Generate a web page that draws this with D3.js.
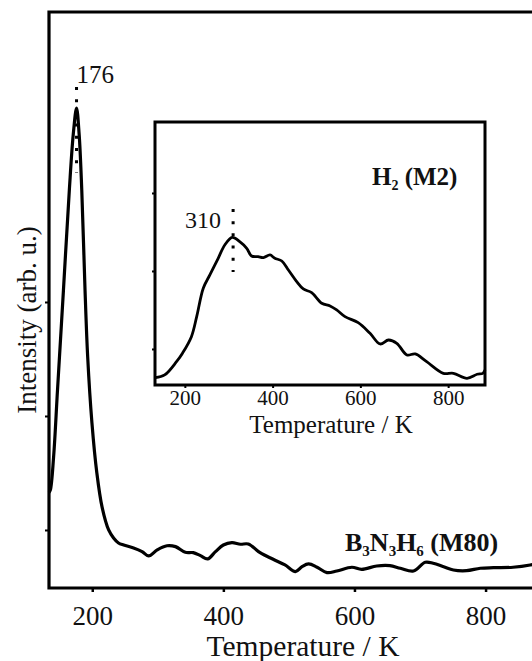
<!DOCTYPE html>
<html>
<head>
<meta charset="utf-8">
<script src="https://cdn.jsdelivr.net/npm/d3@7/dist/d3.min.js"></script>
<style>
  html, body { margin: 0; padding: 0; background: #fff; }
  svg { display: block; }
  svg text, svg .tick text { font-family: "Liberation Serif", Tinos, "Times New Roman", "DejaVu Serif", serif !important; fill: #111; }
</style>
</head>
<body>
<svg id="chart" width="532" height="661"></svg>
<script>
// ---- Main curve: B3N3H6 (M80) ----
const mainT = [134,136,141,147,156,165,171,176,180,184,189,193,199.5,207,215,225,232.5,240,248,263,
  276,286,299,314,327,342,354,365,376,388,400,413,426,438,456,476,494,510,520,530,
  543,558,573,596,611,634,654,670,690,708,720,736,751,771,792,812,842,868,880];
const mainI = [1.33,1.35,1.64,2.23,3.10,3.98,4.47,4.70,4.47,3.98,3.10,2.52,1.94,1.50,1.20,1.00,0.93,0.886,0.868,0.842,
  0.81,0.772,0.825,0.862,0.854,0.804,0.801,0.775,0.746,0.81,0.868,0.889,0.875,0.877,0.801,0.743,0.693,0.635,0.678,0.702,
  0.673,0.626,0.640,0.673,0.655,0.684,0.687,0.664,0.640,0.717,0.708,0.678,0.649,0.643,0.664,0.669,0.673,0.693,0.71];

// ---- Inset curve: H2 (M2) ----
const insetT = [133,154,181,195,215,227,242,257,276,291,308,325,341,352,367,379,394,405,421,436,
  455,470,489,512,531,546,565,595,622,645,664,683,706,725,751,789,812,843,866,879,884];
const insetI = [0.632,0.667,0.837,0.949,1.158,1.414,1.778,1.949,2.163,2.333,2.43,2.376,2.291,2.192,2.183,2.171,2.205,2.163,2.128,2.013,
  1.863,1.769,1.722,1.586,1.551,1.5,1.414,1.337,1.201,1.064,1.115,1.073,0.923,0.936,0.837,0.688,0.688,0.624,0.676,0.688,0.731];

// ---- Ticks / labels ----
const xTicks = [200, 400, 600, 800];
const mainYTicks = [1, 2, 3];
const insetYTicks = [1, 2, 3];
const mainPeak = {t: 176, label: "176", from: 4.132, to: 4.886};
const insetPeak = {t: 310, label: "310", from: 1.987, to: 2.795};
const xTitle = "Temperature / K";
const yTitle = "Intensity (arb. u.)";

const FONT = '"Liberation Serif", Tinos, "Times New Roman", "DejaVu Serif", serif';
const svg = d3.select("#chart");

// Main scales
const mx = d3.scaleLinear().domain([134, 880]).range([49, 538]);
const my = d3.scaleLinear().domain([0.491, 5.544]).range([588, 12]);

// Inset scales
const ix = d3.scaleLinear().domain([132, 884]).range([155, 485]);
const iy = d3.scaleLinear().domain([0.538, 3.91]).range([385, 122]);

// Main frame (left, top, bottom)
svg.append("path")
  .attr("d", `M${mx(880)},${my.range()[1]} H${mx.range()[0]} V${my.range()[0]} H${mx(880)}`)
  .attr("fill", "none").attr("stroke", "#000").attr("stroke-width", 3.2);

// Main axes
const mxAxis = svg.append("g").attr("transform", `translate(0,${my.range()[0]})`)
  .call(d3.axisBottom(mx).tickValues(xTicks).tickSize(4).tickFormat(d3.format("d")));
mxAxis.attr("font-family", FONT);
mxAxis.select(".domain").remove();
mxAxis.selectAll("line").attr("stroke", "#000").attr("stroke-width", 2.5);
mxAxis.selectAll("text").attr("y", 37).attr("dy", null)
  .attr("font-family", FONT).style("font-size", "27px").attr("fill", "#111");

const myAxis = svg.append("g").attr("transform", `translate(${mx.range()[0]},0)`)
  .call(d3.axisLeft(my).tickValues(mainYTicks).tickSize(4).tickFormat(""));
myAxis.select(".domain").remove();
myAxis.selectAll("line").attr("stroke", "#000").attr("stroke-width", 2);

// Main curve
const mainLine = d3.line().x(d => mx(d[0])).y(d => my(d[1])).curve(d3.curveCatmullRom.alpha(0.5));
svg.append("path")
  .datum(mainT.map((t, i) => [t, mainI[i]]))
  .attr("d", mainLine)
  .attr("fill", "none").attr("stroke", "#000").attr("stroke-width", 3.2)
  .attr("stroke-linejoin", "round");

// Main peak marker
svg.append("line")
  .attr("x1", mx(mainPeak.t)).attr("x2", mx(mainPeak.t))
  .attr("y1", my(mainPeak.to)).attr("y2", my(mainPeak.from))
  .attr("stroke", "#000").attr("stroke-width", 3).attr("stroke-dasharray", "3,9.2");
svg.append("text").attr("x", mx(mainPeak.t)).attr("y", 83).attr("font-family", FONT)
  .style("font-size", "25px").text(mainPeak.label);

// Main axis titles
svg.append("text").attr("x", 303).attr("y", 656).attr("text-anchor", "middle").attr("font-family", FONT)
  .style("font-size", "29.5px").text(xTitle);
svg.append("text").attr("transform", "translate(36,320) rotate(-90)").attr("text-anchor", "middle").attr("font-family", FONT)
  .style("font-size", "27px").text(yTitle);

// Main series label
const bLab = svg.append("text").attr("x", 345).attr("y", 551).attr("font-family", FONT)
  .style("font-size", "26px").style("font-weight", "bold");
[["B",""],["3","s"],["N",""],["3","s"],["H",""],["6","s"],[" (M80)",""]].forEach(([t, s]) => {
  bLab.append("tspan").text(t)
    .attr("dy", s ? 5 : (t === "B" ? 0 : -5))
    .style("font-size", s ? "15px" : "26px");
});

// ---- Inset ----
svg.append("rect")
  .attr("x", ix.range()[0]).attr("y", iy.range()[1])
  .attr("width", ix.range()[1] - ix.range()[0]).attr("height", iy.range()[0] - iy.range()[1])
  .attr("fill", "#fff").attr("stroke", "#000").attr("stroke-width", 3);

const ixAxis = svg.append("g").attr("transform", `translate(0,${iy.range()[0]})`)
  .call(d3.axisBottom(ix).tickValues(xTicks).tickSize(3).tickFormat(d3.format("d")));
ixAxis.attr("font-family", FONT);
ixAxis.select(".domain").remove();
ixAxis.selectAll("line").attr("stroke", "#000").attr("stroke-width", 2);
ixAxis.selectAll("text").attr("y", 20).attr("dy", null)
  .attr("font-family", FONT).style("font-size", "21px").attr("fill", "#111");

const iyAxis = svg.append("g").attr("transform", `translate(${ix.range()[0]},0)`)
  .call(d3.axisLeft(iy).tickValues(insetYTicks).tickSize(3).tickFormat(""));
iyAxis.select(".domain").remove();
iyAxis.selectAll("line").attr("stroke", "#000").attr("stroke-width", 2);

const insetLine = d3.line().x(d => ix(d[0])).y(d => iy(d[1])).curve(d3.curveCatmullRom.alpha(0.5));
svg.append("path")
  .datum(insetT.map((t, i) => [t, insetI[i]]))
  .attr("d", insetLine)
  .attr("fill", "none").attr("stroke", "#000").attr("stroke-width", 2.8)
  .attr("stroke-linejoin", "round");

svg.append("line")
  .attr("x1", ix(insetPeak.t)).attr("x2", ix(insetPeak.t))
  .attr("y1", iy(insetPeak.to)).attr("y2", iy(insetPeak.from))
  .attr("stroke", "#000").attr("stroke-width", 3).attr("stroke-dasharray", "3,9.2");
svg.append("text").attr("x", ix(insetPeak.t) - 12).attr("y", 228).attr("text-anchor", "end").attr("font-family", FONT)
  .style("font-size", "24px").text(insetPeak.label);

svg.append("text").attr("x", 331).attr("y", 433).attr("text-anchor", "middle").attr("font-family", FONT)
  .style("font-size", "25px").text(xTitle);

const hLab = svg.append("text").attr("x", 372).attr("y", 185).attr("font-family", FONT)
  .style("font-size", "25px").style("font-weight", "bold");
hLab.append("tspan").text("H");
hLab.append("tspan").text("2").attr("dy", 5).style("font-size", "14px");
hLab.append("tspan").text(" (M2)").attr("dy", -5);
</script>
</body>
</html>
